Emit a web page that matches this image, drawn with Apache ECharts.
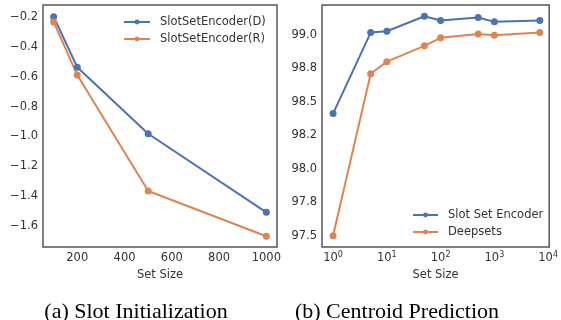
<!DOCTYPE html>
<html>
<head>
<meta charset="utf-8">
<script src="https://cdn.jsdelivr.net/npm/echarts@6/dist/echarts.min.js"></script>
<style>
  html, body { margin: 0; padding: 0; background: #fff; }
  #chart { width: 561px; height: 320px; }
</style>
</head>
<body>
<div id="chart"></div>
<script>
// (a) slot initialization
const sizesA = [100, 200, 500, 1000];
const slotD = [-0.198, -0.537, -0.982, -1.508];
const slotR = [-0.233, -0.589, -1.365, -1.668];
const yTicksA = [-1.6, -1.4, -1.2, -1.0, -0.8, -0.6, -0.4, -0.2];
const xTicksA = [200, 400, 600, 800, 1000];

// (b) centroid prediction
const sizesB = [1, 5, 10, 50, 100, 500, 1000, 7000];
const slotSet = [98.412, 99.017, 99.027, 99.139, 99.107, 99.129, 99.097, 99.107];
const deepsets = [97.5, 98.71, 98.80, 98.918, 98.978, 99.007, 98.998, 99.017];
const yTicksB = [97.5, 97.75, 98.0, 98.25, 98.5, 98.75, 99.0];
const yLabelsB = ['97.5', '97.8', '98.0', '98.2', '98.5', '98.8', '99.0'];
const xTicksB = [1, 10, 100, 1000, 10000];

const BLUE = '#4c72b0';
const ORANGE = '#dd8452';
const TXT = '#333';
const FONT = 'DejaVu Sans';

const pairs = (xs, ys) => xs.map((x, i) => [x, ys[i]]);
const minus = (v) => v.toFixed(1).replace('-', '\u2212');

const lineSeries = (name, color, data, idx) => ({
  name,
  type: 'line',
  xAxisIndex: idx,
  yAxisIndex: idx,
  data,
  symbol: 'circle',
  symbolSize: 7,
  showSymbol: true,
  lineStyle: { color, width: 2 },
  itemStyle: { color },
  animation: false,
});

const legendBase = {
  orient: 'vertical',
  padding: 0,
  itemWidth: 26,
  itemHeight: 6,
  itemGap: 3,
  textStyle: { fontFamily: FONT, fontSize: 11.5, color: TXT, lineHeight: 14, padding: [0, 0, 0, 5] },
};

const axisLabelBase = { fontFamily: FONT, fontSize: 11.5, color: TXT };

const captionStyle = { fontFamily: 'Liberation Serif', fontSize: 22, fontWeight: 'normal', color: '#000' };

const chart = echarts.init(document.getElementById('chart'), null, { renderer: 'canvas' });
chart.setOption({
  animation: false,
  grid: [
    { left: 43, top: 5, width: 234, height: 242, show: true, borderColor: '#555', borderWidth: 1.5, backgroundColor: '#fff' },
    { left: 322, top: 5, width: 230, height: 242, show: true, borderColor: '#555', borderWidth: 1.5, backgroundColor: '#fff' },
  ],
  title: [
    { text: '(a) Slot Initialization', left: 131, top: 296, textAlign: 'center', textStyle: captionStyle },
    { text: '(b) Centroid Prediction', left: 392, top: 296, textAlign: 'center', textStyle: captionStyle },
  ],
  legend: [
    Object.assign({}, legendBase, { left: 123, top: 15, data: ['SlotSetEncoder(D)', 'SlotSetEncoder(R)'] }),
    Object.assign({}, legendBase, { left: 412, top: 208, itemWidth: 25, data: ['Slot Set Encoder', 'Deepsets'] }),
  ],
  xAxis: [
    {
      type: 'value', gridIndex: 0, min: 55, max: 1045,
      name: 'Set Size', nameLocation: 'middle', nameGap: 19,
      nameTextStyle: { fontFamily: FONT, fontSize: 11.5, color: TXT },
      axisLine: { show: false }, axisTick: { show: false }, splitLine: { show: false },
      axisLabel: Object.assign({}, axisLabelBase, { margin: 5, customValues: xTicksA, formatter: (v) => String(v) }),
    },
    {
      type: 'log', logBase: 10, gridIndex: 1, min: 0.622, max: 10470,
      name: 'Set Size', nameLocation: 'middle', nameGap: 19,
      nameTextStyle: { fontFamily: FONT, fontSize: 11.5, color: TXT },
      axisLine: { show: false }, axisTick: { show: false }, splitLine: { show: false },
      axisLabel: Object.assign({}, axisLabelBase, {
        margin: 4,
        customValues: xTicksB,
        formatter: (v) => '10{sup|' + Math.round(Math.log10(v)) + '}',
        rich: { sup: { fontFamily: FONT, fontSize: 8, color: TXT, verticalAlign: 'top', padding: [0, 0, 6, 0] } },
      }),
    },
  ],
  yAxis: [
    {
      type: 'value', gridIndex: 0, min: -1.74, max: -0.12,
      axisLine: { show: false }, axisTick: { show: false }, splitLine: { show: false },
      axisLabel: Object.assign({}, axisLabelBase, { margin: 5, customValues: yTicksA, formatter: (v) => minus(v) }),
    },
    {
      type: 'value', gridIndex: 1, min: 97.416, max: 99.223,
      axisLine: { show: false }, axisTick: { show: false }, splitLine: { show: false },
      axisLabel: Object.assign({}, axisLabelBase, {
        margin: 5,
        customValues: yTicksB,
        formatter: (v) => {
          const i = yTicksB.findIndex((t) => Math.abs(t - v) < 1e-6);
          return i >= 0 ? yLabelsB[i] : '';
        },
      }),
    },
  ],
  series: [
    lineSeries('SlotSetEncoder(D)', BLUE, pairs(sizesA, slotD), 0),
    lineSeries('SlotSetEncoder(R)', ORANGE, pairs(sizesA, slotR), 0),
    lineSeries('Slot Set Encoder', BLUE, pairs(sizesB, slotSet), 1),
    lineSeries('Deepsets', ORANGE, pairs(sizesB, deepsets), 1),
  ],
});
</script>
</body>
</html>
